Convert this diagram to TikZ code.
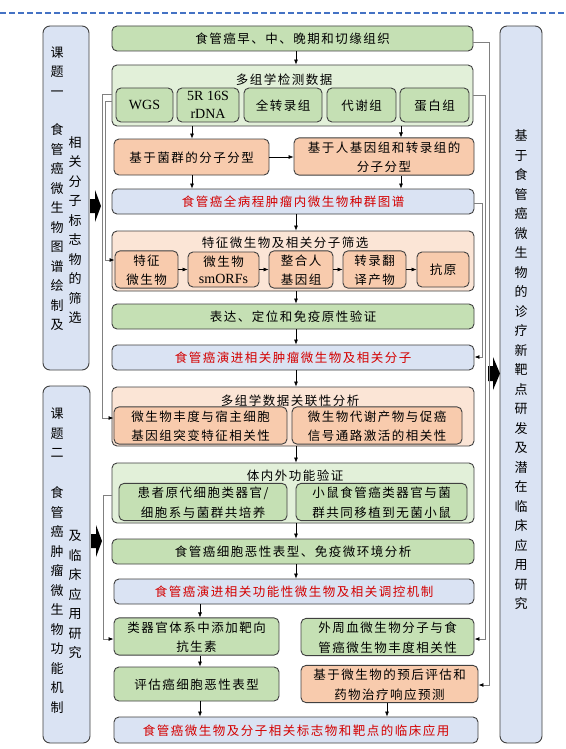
\documentclass[tikz,border=0pt]{standalone}
\usepackage{fontspec}
\setmainfont{Liberation Serif}
\newfontfamily\cjk{Noto Sans CJK SC}[LetterSpace=12]
\newfontfamily\cjkv{Noto Sans CJK SC}
\XeTeXuseglyphmetrics=0
\usetikzlibrary{arrows.meta}
\definecolor{cgreen}{HTML}{C5E0B4}
\definecolor{clgreen}{HTML}{E2F0D9}
\definecolor{corange}{HTML}{F8CBAD}
\definecolor{clorange}{HTML}{FBE5D6}
\definecolor{cblue}{HTML}{DAE3F3}
\definecolor{cred}{HTML}{D40000}
\definecolor{bord}{HTML}{404040}
\definecolor{glin}{HTML}{808080}
\definecolor{dashblue}{HTML}{4472C4}
\begin{document}
\begin{tikzpicture}[x=1pt,y=-1pt,
  base/.style={draw=bord, line width=0.9pt, rounded corners=5pt, inner sep=0pt, align=center,
    font=\cjk\fontsize{12.5}{17}\selectfont, text=black},
  gbox/.style={base, fill=cgreen},
  lgbox/.style={base, fill=clgreen},
  obox/.style={base, fill=corange},
  lobox/.style={base, fill=clorange},
  bbox/.style={base, fill=cblue},
  rbox/.style={base, fill=cblue, text=cred},
  colbox/.style={draw=bord, line width=0.9pt, rounded corners=7pt, fill=cblue, inner sep=0pt},
  vtext/.style={inner sep=0pt, align=center, font=\cjkv\fontsize{13}{19.5}\selectfont},
  ttl/.style={inner sep=0pt, font=\cjk\fontsize{12.5}{17}\selectfont},
  lat/.style={font=\rmfamily\fontsize{14}{18}\selectfont},
  arr/.style={-{Latex[length=5pt,width=4pt]}, line width=0.6pt, draw=black},
  gline/.style={draw=glin, line width=0.8pt, -{Latex[length=5pt,width=4pt,color=black]}},
]
\useasboundingbox (0,0) rectangle (565,749);
\fill[white] (0,0) rectangle (565,749);
\draw[dashblue, line width=1.6pt, dash pattern=on 6pt off 3pt] (0,13) -- (565,13);

% side columns
\node[colbox, minimum width=46pt, minimum height=344pt] (L1) at (66,198) {};
\node[colbox, minimum width=47pt, minimum height=357pt] (L2) at (66.5,564.5) {};
\node[colbox, minimum width=42pt, minimum height=717pt] (R) at (521,384.5) {};
\node[vtext] (l1a) at (57,71) {课\\题\\一};
\node[vtext] (l1b) at (57,226.5) {食\\管\\癌\\微\\生\\物\\图\\谱\\绘\\制\\及};
\node[vtext] (l1c) at (75,229.5) {相\\关\\分\\子\\标\\志\\物\\的\\筛\\选};
\node[vtext] (l2a) at (57,432.5) {课\\题\\二};
\node[vtext] (l2b) at (57,599.5) {食\\管\\癌\\肿\\瘤\\微\\生\\物\\功\\能\\机\\制};
\node[vtext] (l2c) at (75,593.5) {及\\临\\床\\应\\用\\研\\究};
\node[vtext] (rt) at (521,369) {基\\于\\食\\管\\癌\\微\\生\\物\\的\\诊\\疗\\新\\靶\\点\\研\\发\\及\\潜\\在\\临\\床\\应\\用\\研\\究};

% big arrows
\fill[black] (90,199) -- (95,199) -- (95,190) -- (101,206) -- (95,222) -- (95,213) -- (90,213) -- cycle;
\fill[black] (91,534) -- (96,534) -- (96,525) -- (102,541) -- (96,557) -- (96,548) -- (91,548) -- cycle;
\fill[black] (488,366) -- (493,366) -- (493,357) -- (500,373.5) -- (493,390) -- (493,381) -- (488,381) -- cycle;

% main column
\node[gbox, minimum width=361pt, minimum height=25pt] (t1) at (292.5,38.5) {食管癌早、中、晚期和切缘组织};
\node[lgbox, minimum width=361pt, minimum height=61pt] (g1) at (292.5,95.5) {};
\node[ttl] (g1t) at (284,79) {多组学检测数据};
\node[gbox, minimum width=57pt, minimum height=34pt, lat] (m1) at (144.5,105) {WGS};
\node[gbox, minimum width=62pt, minimum height=34pt, lat] (m2) at (208,105) {5R 16S\\rDNA};
\node[gbox, minimum width=78pt, minimum height=34pt] (m3) at (283,105) {全转录组};
\node[gbox, minimum width=69pt, minimum height=34pt] (m4) at (361.5,105) {代谢组};
\node[gbox, minimum width=69pt, minimum height=34pt] (m5) at (434.5,105) {蛋白组};

\node[obox, minimum width=155pt, minimum height=36pt] (o1) at (191.5,157) {基于菌群的分子分型};
\node[obox, minimum width=180pt, minimum height=35pt] (o2) at (384,156.5) {基于人基因组和转录组的\\分子分型};

\node[rbox, minimum width=362pt, minimum height=25pt] (b1) at (293,201.5) {食管癌全病程肿瘤内微生物种群图谱};

\node[lobox, minimum width=362pt, minimum height=60pt] (g2) at (293,261) {};
\node[ttl] (g2t) at (285,242) {特征微生物及相关分子筛选};
\node[obox, minimum width=63pt, minimum height=35pt] (s1) at (146.5,269.5) {特征\\微生物};
\node[obox, minimum width=71pt, minimum height=35pt] (s2) at (223.5,269.5) {微生物\\{\rmfamily\fontsize{14}{17}\selectfont smORFs}};
\node[obox, minimum width=64pt, minimum height=35pt] (s3) at (301,269.5) {整合人\\基因组};
\node[obox, minimum width=63pt, minimum height=35pt] (s4) at (374.5,269.5) {转录翻\\译产物};
\node[obox, minimum width=52pt, minimum height=35pt] (s5) at (443,269.5) {抗原};

\node[gbox, minimum width=362pt, minimum height=25pt] (t2) at (293,316.5) {表达、定位和免疫原性验证};
\node[rbox, minimum width=362pt, minimum height=25pt] (b2) at (293,357.5) {食管癌演进相关肿瘤微生物及相关分子};

\node[lobox, minimum width=362pt, minimum height=59pt] (g3) at (293,416.5) {};
\node[ttl] (g3t) at (290,400) {多组学数据关联性分析};
\node[obox, minimum width=173pt, minimum height=35pt] (c1) at (200.5,425.5) {微生物丰度与宿主细胞\\基因组突变特征相关性};
\node[obox, minimum width=170pt, minimum height=35pt] (c2) at (377,425.5) {微生物代谢产物与促癌\\信号通路激活的相关性};

\node[lgbox, minimum width=362pt, minimum height=60pt] (g4) at (293,493) {};
\node[ttl] (g4t) at (295,475) {体内外功能验证};
\node[gbox, minimum width=168pt, minimum height=34pt] (f1) at (203,502) {患者原代细胞类器官/\\细胞系与菌群共培养};
\node[gbox, minimum width=171pt, minimum height=34pt] (f2) at (381.5,502) {小鼠食管癌类器官与菌\\群共同移植到无菌小鼠};

\node[gbox, minimum width=362pt, minimum height=25pt] (t3) at (293,551.5) {食管癌细胞恶性表型、免疫微环境分析};
\node[rbox, minimum width=360pt, minimum height=25pt] (b3) at (294,591.5) {食管癌演进相关功能性微生物及相关调控机制};

\node[gbox, minimum width=165pt, minimum height=35pt] (k1) at (196.5,636.5) {类器官体系中添加靶向\\抗生素};
\node[gbox, minimum width=165pt, minimum height=34pt] (k2) at (196.5,684) {评估癌细胞恶性表型};
\node[gbox, minimum width=173pt, minimum height=34pt] (p1) at (387.5,637) {外周血微生物分子与食\\管癌微生物丰度相关性};
\node[obox, minimum width=177pt, minimum height=34pt] (p2) at (389.5,684) {基于微生物的预后评估和\\药物治疗响应预测};
\node[rbox, minimum width=364pt, minimum height=26pt] (b4) at (296,730) {食管癌微生物及分子相关标志物和靶点的临床应用};

% x positions of arrows
\coordinate (xm) at (296,0);
\coordinate (xa) at (192,0);
\coordinate (xb) at (401,0);
\coordinate (xk) at (200,0);
\coordinate (xp) at (387,0);

\draw[arr] (t1.south -| xm) -- (g1.north -| xm);
\draw[arr] (g1.south -| xa) -- (o1.north -| xa);
\draw[arr] (g1.south -| xb) -- (o2.north -| xb);
\draw[arr] (o1.east) -- (o1.east -| o2.west);
\draw[arr] (o1.south -| xa) -- (b1.north -| xa);
\draw[arr] (o2.south -| xb) -- (b1.north -| xb);
\draw[arr] (b1.south -| xm) -- (g2.north -| xm);
\draw[arr] (s1.east) -- (s2.west);
\draw[arr] (s2.east) -- (s3.west);
\draw[arr] (s3.east) -- (s4.west);
\draw[arr] (s4.east) -- (s5.west);
\draw[arr] (g2.south -| xm) -- (t2.north -| xm);
\draw[arr] (t2.south -| xm) -- (b2.north -| xm);
\draw[arr] (b2.south -| xm) -- (g3.north -| xm);
\draw[arr] (g3.south -| xm) -- (g4.north -| xm);
\draw[arr] (g4.south -| xm) -- (t3.north -| xm);
\draw[arr] (t3.south -| xm) -- (b3.north -| xm);
\draw[arr] (b3.south -| xk) -- (k1.north -| xk);
\draw[arr] (k1.south -| xk) -- (k2.north -| xk);
\draw[arr] (k2.south -| xk) -- (b4.north -| xk);
\draw[arr] (p2.south -| xp) -- (b4.north -| xp);

% gray feed lines
\draw[gline] (g1.west |- 0,94) -- (102,94) -- (102,418) -- (c1.west |- 0,418);
\draw[gline] (g1.west |- 0,101) -- (105,101) -- (105,260) -- (s1.west |- 0,260);
\draw[gline] (g4.west |- 0,495) -- (103,495) -- (103,639) -- (k1.west |- 0,639);
\draw[gline] (t1.east |- 0,42) -- (489,42) -- (489,685) -- (p2.east |- 0,685);
\draw[gline] (g1.east |- 0,95) -- (485,95) -- (485,639) -- (p1.east |- 0,639);
\draw[gline] (b1.east |- 0,203) -- (482,203) -- (482,357) -- (b2.east |- 0,357);
\end{tikzpicture}
\end{document}
